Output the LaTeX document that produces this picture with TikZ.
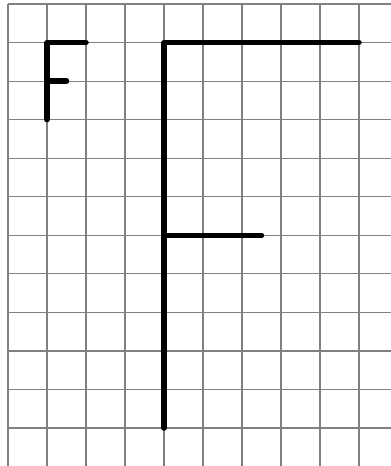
\documentclass[tikz,border=0pt]{standalone}
\begin{document}
\begin{tikzpicture}[x=1pt,y=-1pt,
  gridline/.style={draw=black!50,line width=1.2pt},
  stroke/.style={draw=black,line width=5.5pt,line cap=round,line join=round}]
\useasboundingbox[fill=white] (0,0) rectangle (391,466);
% grid
\foreach \k in {0,...,9} {
  \draw[gridline] ({8+39*\k},4) -- ({8+39*\k},466);
}
\foreach \k in {0,...,11} {
  \draw[gridline] (8,{4+38.55*\k}) -- (391,{4+38.55*\k});
}
% cell coordinates
\begin{scope}[shift={(8,4)},x=39pt,y=-38.55pt]
  % small F
  \coordinate (sTop) at (1,1);
  \coordinate (sBot) at (1,3);
  \coordinate (sTopR) at (2,1);
  \coordinate (sMid) at (1,2);
  \coordinate (sMidR) at (1.5,2);
  \draw[stroke] (sTopR) -- (sTop) -- (sBot);
  \draw[stroke] (sMid) -- (sMidR);
  % big F
  \coordinate (bTop) at (4,1);
  \coordinate (bBot) at (4,11);
  \coordinate (bTopR) at (9,1);
  \coordinate (bMid) at (4,6);
  \coordinate (bMidR) at (6.5,6);
  \draw[stroke] (bTopR) -- (bTop) -- (bBot);
  \draw[stroke] (bMid) -- (bMidR);
\end{scope}
\end{tikzpicture}
\end{document}
